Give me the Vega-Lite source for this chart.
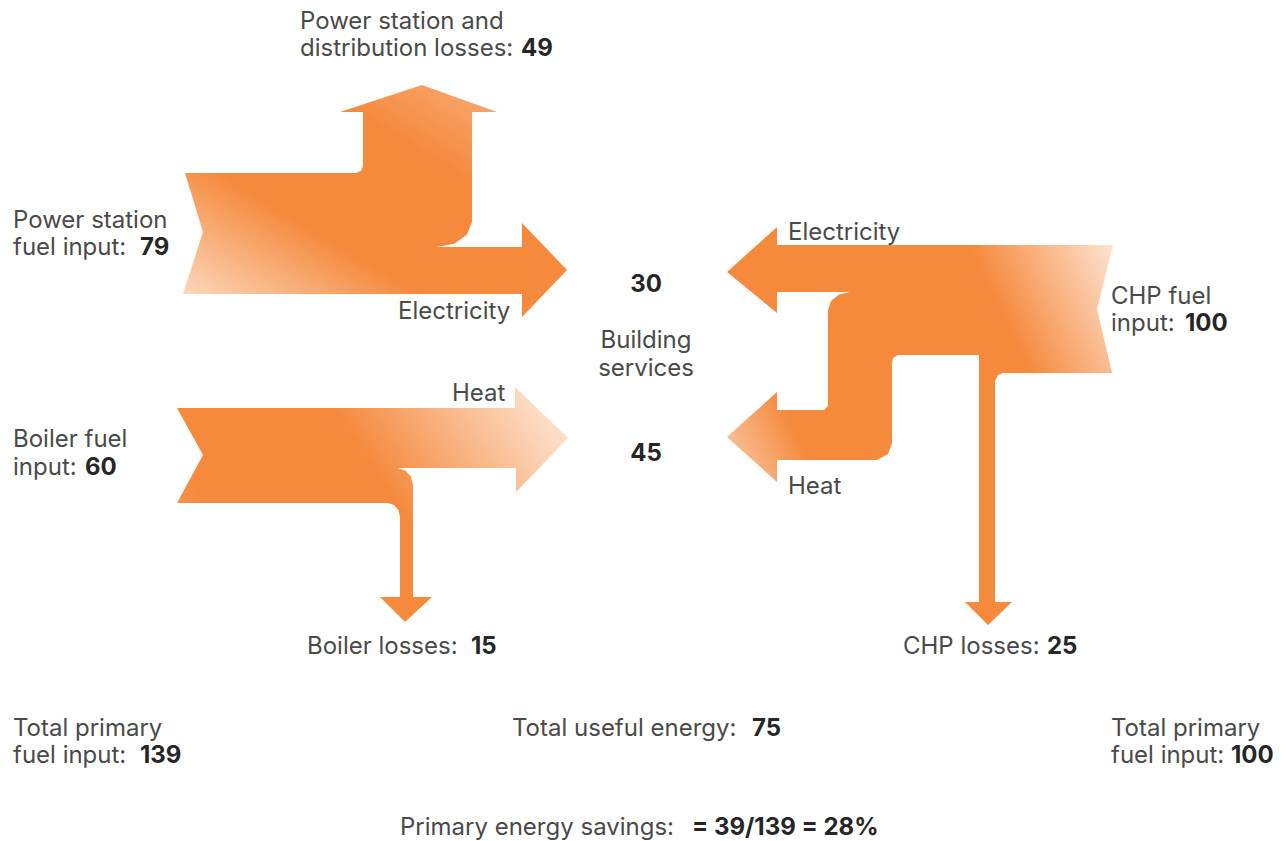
{
  "$schema": "https://vega.github.io/schema/vega-lite/v6.json",
  "width": 1286,
  "height": 841,
  "autosize": "none",
  "padding": 0,
  "background": "white",
  "config": {"view": {"stroke": null}},
  "datasets": {
    "shapes": [
      {"shape": "PS", "i": 0, "x": 185, "y": 173},
      {"shape": "PS", "i": 1, "x": 356, "y": 173},
      {"shape": "PS", "i": 2, "x": 361, "y": 171},
      {"shape": "PS", "i": 3, "x": 363, "y": 166},
      {"shape": "PS", "i": 4, "x": 363, "y": 112},
      {"shape": "PS", "i": 5, "x": 340, "y": 112},
      {"shape": "PS", "i": 6, "x": 422, "y": 85},
      {"shape": "PS", "i": 7, "x": 497, "y": 112},
      {"shape": "PS", "i": 8, "x": 472, "y": 112},
      {"shape": "PS", "i": 9, "x": 472, "y": 222},
      {"shape": "PS", "i": 10, "x": 467, "y": 234.5},
      {"shape": "PS", "i": 11, "x": 454.5, "y": 243.7},
      {"shape": "PS", "i": 12, "x": 437, "y": 247},
      {"shape": "PS", "i": 13, "x": 522, "y": 247},
      {"shape": "PS", "i": 14, "x": 522, "y": 223},
      {"shape": "PS", "i": 15, "x": 567, "y": 270},
      {"shape": "PS", "i": 16, "x": 522, "y": 317},
      {"shape": "PS", "i": 17, "x": 522, "y": 294},
      {"shape": "PS", "i": 18, "x": 183, "y": 294},
      {"shape": "PS", "i": 19, "x": 203, "y": 232},
      {"shape": "B", "i": 0, "x": 177, "y": 408},
      {"shape": "B", "i": 1, "x": 515, "y": 408},
      {"shape": "B", "i": 2, "x": 515, "y": 387},
      {"shape": "B", "i": 3, "x": 568, "y": 438},
      {"shape": "B", "i": 4, "x": 516, "y": 492},
      {"shape": "B", "i": 5, "x": 516, "y": 468},
      {"shape": "B", "i": 6, "x": 397, "y": 468},
      {"shape": "B", "i": 7, "x": 405, "y": 470.3},
      {"shape": "B", "i": 8, "x": 411, "y": 476.5},
      {"shape": "B", "i": 9, "x": 413, "y": 485},
      {"shape": "B", "i": 10, "x": 413, "y": 597},
      {"shape": "B", "i": 11, "x": 432, "y": 597},
      {"shape": "B", "i": 12, "x": 405, "y": 622},
      {"shape": "B", "i": 13, "x": 380, "y": 597},
      {"shape": "B", "i": 14, "x": 400, "y": 597},
      {"shape": "B", "i": 15, "x": 400, "y": 517},
      {"shape": "B", "i": 16, "x": 398.4, "y": 510},
      {"shape": "B", "i": 17, "x": 394, "y": 505},
      {"shape": "B", "i": 18, "x": 388, "y": 503},
      {"shape": "B", "i": 19, "x": 177, "y": 503},
      {"shape": "B", "i": 20, "x": 203, "y": 455},
      {"shape": "C", "i": 0, "x": 1113, "y": 245},
      {"shape": "C", "i": 1, "x": 1097, "y": 309},
      {"shape": "C", "i": 2, "x": 1112, "y": 373},
      {"shape": "C", "i": 3, "x": 1003, "y": 373},
      {"shape": "C", "i": 4, "x": 998, "y": 375},
      {"shape": "C", "i": 5, "x": 995, "y": 381},
      {"shape": "C", "i": 6, "x": 995, "y": 602},
      {"shape": "C", "i": 7, "x": 1012, "y": 602},
      {"shape": "C", "i": 8, "x": 988, "y": 625},
      {"shape": "C", "i": 9, "x": 965, "y": 602},
      {"shape": "C", "i": 10, "x": 979, "y": 602},
      {"shape": "C", "i": 11, "x": 979, "y": 355},
      {"shape": "C", "i": 12, "x": 898, "y": 355},
      {"shape": "C", "i": 13, "x": 893, "y": 358},
      {"shape": "C", "i": 14, "x": 892, "y": 363},
      {"shape": "C", "i": 15, "x": 892, "y": 443},
      {"shape": "C", "i": 16, "x": 888, "y": 454},
      {"shape": "C", "i": 17, "x": 877, "y": 460},
      {"shape": "C", "i": 18, "x": 777, "y": 460},
      {"shape": "C", "i": 19, "x": 777, "y": 482},
      {"shape": "C", "i": 20, "x": 727, "y": 437},
      {"shape": "C", "i": 21, "x": 777, "y": 392},
      {"shape": "C", "i": 22, "x": 777, "y": 410},
      {"shape": "C", "i": 23, "x": 824, "y": 410},
      {"shape": "C", "i": 24, "x": 828, "y": 406},
      {"shape": "C", "i": 25, "x": 828, "y": 310},
      {"shape": "C", "i": 26, "x": 831, "y": 301},
      {"shape": "C", "i": 27, "x": 839, "y": 294.4},
      {"shape": "C", "i": 28, "x": 850, "y": 292},
      {"shape": "C", "i": 29, "x": 777, "y": 292},
      {"shape": "C", "i": 30, "x": 777, "y": 313},
      {"shape": "C", "i": 31, "x": 727, "y": 272},
      {"shape": "C", "i": 32, "x": 777, "y": 227},
      {"shape": "C", "i": 33, "x": 777, "y": 245}
    ],
    "text": [
      {"x": 300, "y": 29, "t": "Power station and"},
      {"x": 300, "y": 56, "t": "distribution losses:"},
      {"x": 13, "y": 228, "t": "Power station"},
      {"x": 13, "y": 255, "t": "fuel input:"},
      {"x": 398, "y": 319, "t": "Electricity"},
      {"x": 452, "y": 401, "t": "Heat"},
      {"x": 13, "y": 447, "t": "Boiler fuel"},
      {"x": 13, "y": 475, "t": "input:"},
      {"x": 788, "y": 240, "t": "Electricity"},
      {"x": 788, "y": 494, "t": "Heat"},
      {"x": 1111, "y": 304, "t": "CHP fuel"},
      {"x": 1111, "y": 331, "t": "input:"},
      {"x": 307, "y": 654, "t": "Boiler losses:"},
      {"x": 903, "y": 654, "t": "CHP losses:"},
      {"x": 13, "y": 736, "t": "Total primary"},
      {"x": 13, "y": 763, "t": "fuel input:"},
      {"x": 512, "y": 736, "t": "Total useful energy:"},
      {"x": 1111, "y": 736, "t": "Total primary"},
      {"x": 1111, "y": 763, "t": "fuel input:"},
      {"x": 400, "y": 835, "t": "Primary energy savings:"}
    ],
    "textc": [
      {"x": 646, "y": 348, "t": "Building"},
      {"x": 646, "y": 376, "t": "services"}
    ],
    "bold": [
      {"x": 521, "y": 56, "t": "49"},
      {"x": 140, "y": 255, "t": "79"},
      {"x": 85, "y": 475, "t": "60"},
      {"x": 1185, "y": 331, "t": "100"},
      {"x": 471, "y": 654, "t": "15"},
      {"x": 1047, "y": 654, "t": "25"},
      {"x": 140, "y": 763, "t": "139"},
      {"x": 752, "y": 736, "t": "75"},
      {"x": 1231, "y": 763, "t": "100"},
      {"x": 692, "y": 835, "t": "= 39/139 = 28%"}
    ],
    "boldc": [
      {"x": 646, "y": 292, "t": "30"},
      {"x": 646, "y": 461, "t": "45"}
    ]
  },
  "encoding": {
    "x": {"field": "x", "type": "quantitative", "scale": {"domain": [0, 1286], "nice": false, "zero": false}, "axis": null},
    "y": {"field": "y", "type": "quantitative", "scale": {"domain": [0, 841], "reverse": true, "nice": false, "zero": false}, "axis": null}
  },
  "layer": [
    {
      "data": {"name": "shapes"},
      "transform": [{"filter": "datum.shape === 'PS'"}],
      "mark": {"type": "line", "interpolate": "linear-closed", "strokeWidth": 0, "strokeOpacity": 0,
        "fill": {"gradient": "linear", "x1": 0, "y1": 1, "x2": 1, "y2": 0,
          "stops": [{"offset": 0, "color": "#fde4d0"}, {"offset": 0.36, "color": "#f5893c"}, {"offset": 0.66, "color": "#f5893c"}, {"offset": 1, "color": "#f9b98c"}]}},
      "encoding": {"order": {"field": "i", "type": "quantitative"}}
    },
    {
      "data": {"name": "shapes"},
      "transform": [{"filter": "datum.shape === 'B'"}],
      "mark": {"type": "line", "interpolate": "linear-closed", "strokeWidth": 0, "strokeOpacity": 0,
        "fill": {"gradient": "linear", "x1": 0, "y1": 0.7, "x2": 1, "y2": 0.3,
          "stops": [{"offset": 0, "color": "#f59a5a"}, {"offset": 0.15, "color": "#f5893c"}, {"offset": 0.55, "color": "#f5893c"}, {"offset": 1, "color": "#fcdcc4"}]}},
      "encoding": {"order": {"field": "i", "type": "quantitative"}}
    },
    {
      "data": {"name": "shapes"},
      "transform": [{"filter": "datum.shape === 'C'"}],
      "mark": {"type": "line", "interpolate": "linear-closed", "strokeWidth": 0, "strokeOpacity": 0,
        "fill": {"gradient": "linear", "x1": 1, "y1": 0, "x2": 0, "y2": 0.5,
          "stops": [{"offset": 0, "color": "#fee9da"}, {"offset": 0.32, "color": "#f5893c"}, {"offset": 0.86, "color": "#f5893c"}, {"offset": 1, "color": "#f9b98c"}]}},
      "encoding": {"order": {"field": "i", "type": "quantitative"}}
    },
    {
      "data": {"name": "text"},
      "mark": {"type": "text", "align": "left", "baseline": "alphabetic", "font": "Inter", "fontSize": 24, "color": "#4a4a4a"},
      "encoding": {"text": {"field": "t"}}
    },
    {
      "data": {"name": "textc"},
      "mark": {"type": "text", "align": "center", "baseline": "alphabetic", "font": "Inter", "fontSize": 24, "color": "#4a4a4a"},
      "encoding": {"text": {"field": "t"}}
    },
    {
      "data": {"name": "bold"},
      "mark": {"type": "text", "align": "left", "baseline": "alphabetic", "font": "Inter", "fontSize": 24, "fontWeight": "bold", "color": "#262626"},
      "encoding": {"text": {"field": "t"}}
    },
    {
      "data": {"name": "boldc"},
      "mark": {"type": "text", "align": "center", "baseline": "alphabetic", "font": "Inter", "fontSize": 24, "fontWeight": "bold", "color": "#262626"},
      "encoding": {"text": {"field": "t"}}
    }
  ]
}
